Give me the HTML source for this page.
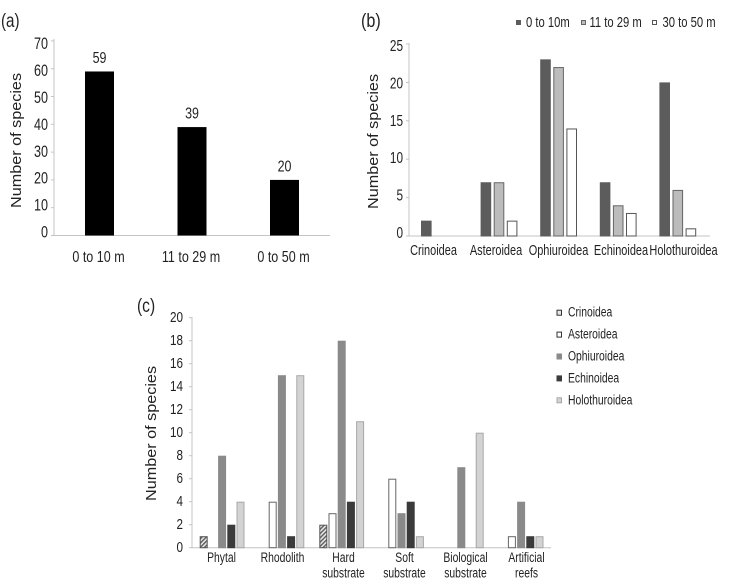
<!DOCTYPE html>
<html lang="en">
<head>
<meta charset="utf-8">
<title>Number of species by depth and substrate</title>
<style>
html,body{margin:0;padding:0;background:#fff;}
body{width:731px;height:581px;overflow:hidden;}
svg{display:block;}
text{font-family:"Liberation Sans",Arial,sans-serif;fill:#222;}
</style>
</head>
<body>
<svg id="figure" xmlns="http://www.w3.org/2000/svg" width="731" height="581" viewBox="0 0 731 581">
  <defs>
    <pattern id="hatch" patternUnits="userSpaceOnUse" width="3" height="3" patternTransform="rotate(45)">
      <rect width="3" height="3" fill="#e4e4e4"></rect>
      <rect width="1.3" height="3" fill="#555"></rect>
    </pattern>
  </defs>
  <rect width="731" height="581" fill="#fff"></rect>
  <g id="panel-a"></g>
  <g id="panel-b"></g>
  <g id="panel-c"></g>
</svg>
<script>
// ---- Panel (a) data ----
const aCategories = ["0 to 10 m", "11 to 29 m", "0 to 50 m"];
const aValues = [59, 39, 20];
const aTicks = [0, 10, 20, 30, 40, 50, 60, 70];

// ---- Panel (b) data ----
const bCategories = ["Crinoidea", "Asteroidea", "Ophiuroidea", "Echinoidea", "Holothuroidea"];
const bShallow = [2, 7, 23, 7, 20];
const bMiddle = [0, 7, 22, 4, 6];
const bDeep = [0, 2, 14, 3, 1];
const bTicks = [0, 5, 10, 15, 20, 25];
const bSeriesNames = ["0 to 10m", "11 to 29 m", "30 to 50 m"];

// ---- Panel (c) data ----
const cCategories = [["Phytal"], ["Rhodolith"], ["Hard", "substrate"], ["Soft", "substrate"], ["Biological", "substrate"], ["Artificial", "reefs"]];
const cCrinoidea = [1, 0, 2, 0, 0, 0];
const cAsteroidea = [0, 4, 3, 6, 0, 1];
const cOphiuroidea = [8, 15, 18, 3, 7, 4];
const cEchinoidea = [2, 1, 4, 4, 0, 1];
const cHolothuroidea = [4, 15, 11, 1, 10, 1];
const cTicks = [0, 2, 4, 6, 8, 10, 12, 14, 16, 18, 20];
const cSeriesNames = ["Crinoidea", "Asteroidea", "Ophiuroidea", "Echinoidea", "Holothuroidea"];

const NS = "http://www.w3.org/2000/svg";
const AXIS = "#c4c4c4";

function makeText(parent, x, y, str, size, sx, anchor, rot) {
  const t = document.createElementNS(NS, "text");
  t.textContent = str;
  t.setAttribute("font-size", size);
  t.setAttribute("text-anchor", anchor || "start");
  t.setAttribute("transform", "translate(" + x + "," + y + ")" + (rot ? " rotate(" + rot + ")" : "") + " scale(" + sx + ",1)");
  parent.appendChild(t);
  return t;
}
function makeRect(parent, x, y, w, h, fill, stroke, sw) {
  const r = document.createElementNS(NS, "rect");
  r.setAttribute("x", x);
  r.setAttribute("y", y);
  r.setAttribute("width", w);
  r.setAttribute("height", h);
  r.setAttribute("fill", fill);
  if (stroke) {
    r.setAttribute("stroke", stroke);
    r.setAttribute("stroke-width", sw || 1);
  }
  parent.appendChild(r);
  return r;
}
function makeLine(parent, x1, y1, x2, y2, color, sw) {
  const l = document.createElementNS(NS, "line");
  l.setAttribute("x1", x1);
  l.setAttribute("y1", y1);
  l.setAttribute("x2", x2);
  l.setAttribute("y2", y2);
  l.setAttribute("stroke", color);
  l.setAttribute("stroke-width", sw || 1);
  parent.appendChild(l);
  return l;
}

// ---- Panel (a) ----
(function () {
  const g = document.getElementById("panel-a");
  const y = v => 235.5 - v * 2.78;
  const tickY = v => 237.5 - v * 2.69;
  const x = i => 99.5 + i * 92.5;
  const barW = 29;

  const tag = makeText(g, 1, 27, "(a)", 19, 0.8);
  
  

  const title = makeText(g, 21, 208, "Number of species", 15, 1.08, "start", -90);
  
  

  const yAxis = makeLine(g, 54, y(70) - 2, 54, y(0), AXIS, 1);
  
  
  const xAxis = makeLine(g, 54, y(0), 330, y(0), AXIS, 1);
  
  

  aTicks.forEach(v => {
    const mark = makeLine(g, 51, y(v), 54, y(v), AXIS, 1);
    
    
    const t = makeText(g, 48, tickY(v), String(v), 17, 0.74, "end");
    
    
  });

  aValues.forEach((v, i) => {
    const bar = makeRect(g, x(i) - barW / 2, y(v), barW, y(0) - y(v), "#000");
    
    
    const val = makeText(g, x(i), y(v) - 8.5, String(v), 16, 0.78, "middle");
    
    
    const cat = makeText(g, x(i) - 1, 262, aCategories[i], 15.5, 0.81, "middle");
    
    
  });
})();

// ---- Panel (b) ----
(function () {
  const g = document.getElementById("panel-b");
  const y = v => 236 - v * 7.68;
  const tickY = v => 238 - v * 7.48;
  const x = (i, s) => 421 + i * 59.6 + s * 13.1;
  const barW = 10.6;
  const series = [bShallow, bMiddle, bDeep];
  const fills = ["#5c5c5c", "#bcbcbc", "#ffffff"];
  const strokes = ["#5c5c5c", "#666666", "#555555"];

  const tag = makeText(g, 361, 27, "(b)", 19, 0.85);
  
  

  const title = makeText(g, 378, 209, "Number of species", 15, 1.08, "start", -90);
  
  

  const yAxis = makeLine(g, 409, y(25) - 1, 409, y(0), AXIS, 1);
  
  
  const xAxis = makeLine(g, 409, y(0), 710, y(0), AXIS, 1);
  
  

  bTicks.forEach(v => {
    const mark = makeLine(g, 406, y(v), 409, y(v), AXIS, 1);
    
    
    const t = makeText(g, 403, tickY(v), String(v), 15.5, 0.76, "end");
    
    
  });

  series.forEach((values, s) => {
    values.forEach((v, i) => {
      if (!v) return;
      const bar = makeRect(g, x(i, s) + 0.5, y(v) + 0.5, barW - 1, y(0) - y(v) - 0.5, fills[s], strokes[s], 1);
      
      
    });
  });

  bCategories.forEach((c, i) => {
    const t = makeText(g, 433.5 + i * 62.5, 255, c, 15, 0.73, "middle");
    
    
  });

  const lx = [516, 581, 652];
  const tx = [526, 589.5, 662.5];
  bSeriesNames.forEach((n, s) => {
    const sw = makeRect(g, lx[s] + 0.5, 20.5, 4, 4, fills[s], strokes[s], 1);
    
    
    const t = makeText(g, tx[s], 27, n, 15, 0.75);
    
    
  });
})();

// ---- Panel (c) ----
(function () {
  const g = document.getElementById("panel-c");
  const y = v => 547.7 - v * 11.5;
  const x = (i, s) => 199.7 + i * 59.8 + s * 9.2;
  const barW = 8;
  const series = [cCrinoidea, cAsteroidea, cOphiuroidea, cEchinoidea, cHolothuroidea];
  const fills = ["url(#hatch)", "#ffffff", "#8a8a8a", "#3b3b3b", "#d3d3d3"];
  const strokes = ["#555555", "#666666", "#8a8a8a", "#3b3b3b", "#a8a8a8"];

  const tag = makeText(g, 137, 312, "(c)", 19, 0.82);
  
  

  const title = makeText(g, 156, 501, "Number of species", 15, 1.08, "start", -90);
  
  

  const yAxis = makeLine(g, 192, y(20) - 1, 192, y(0), AXIS, 1);
  
  
  const xAxis = makeLine(g, 192, y(0), 551, y(0), AXIS, 1);
  
  

  cTicks.forEach(v => {
    const mark = makeLine(g, 189, y(v), 192, y(v), AXIS, 1);
    
    
    const t = makeText(g, 183, y(v) + 4.5, String(v), 15, 0.78, "end");
    
    
  });

  series.forEach((values, s) => {
    values.forEach((v, i) => {
      if (!v) return;
      const bar = makeRect(g, x(i, s) + 0.5, y(v) + 0.5, barW - 1, y(0) - y(v) - 0.5, fills[s], strokes[s], 1);
      
      
    });
  });

  cCategories.forEach((lines, i) => {
    const cx = 221.5 + i * 61;
    lines.forEach((line, k) => {
      const t = makeText(g, cx, 562 + k * 15.5, line, 14, 0.74, "middle");
      
      
    });
  });

  cSeriesNames.forEach((n, s) => {
    const ly = 312.7 + s * 21.9;
    const sw = makeRect(g, 557, ly - 2.5, 4.5, 5, s === 0 ? "#e6e6e6" : fills[s], s < 2 ? "#333333" : strokes[s], 1);
    
    
    const t = makeText(g, 568, ly + 4, n, 14, 0.74);
    
    
  });
})();
</script>
</body>
</html>
